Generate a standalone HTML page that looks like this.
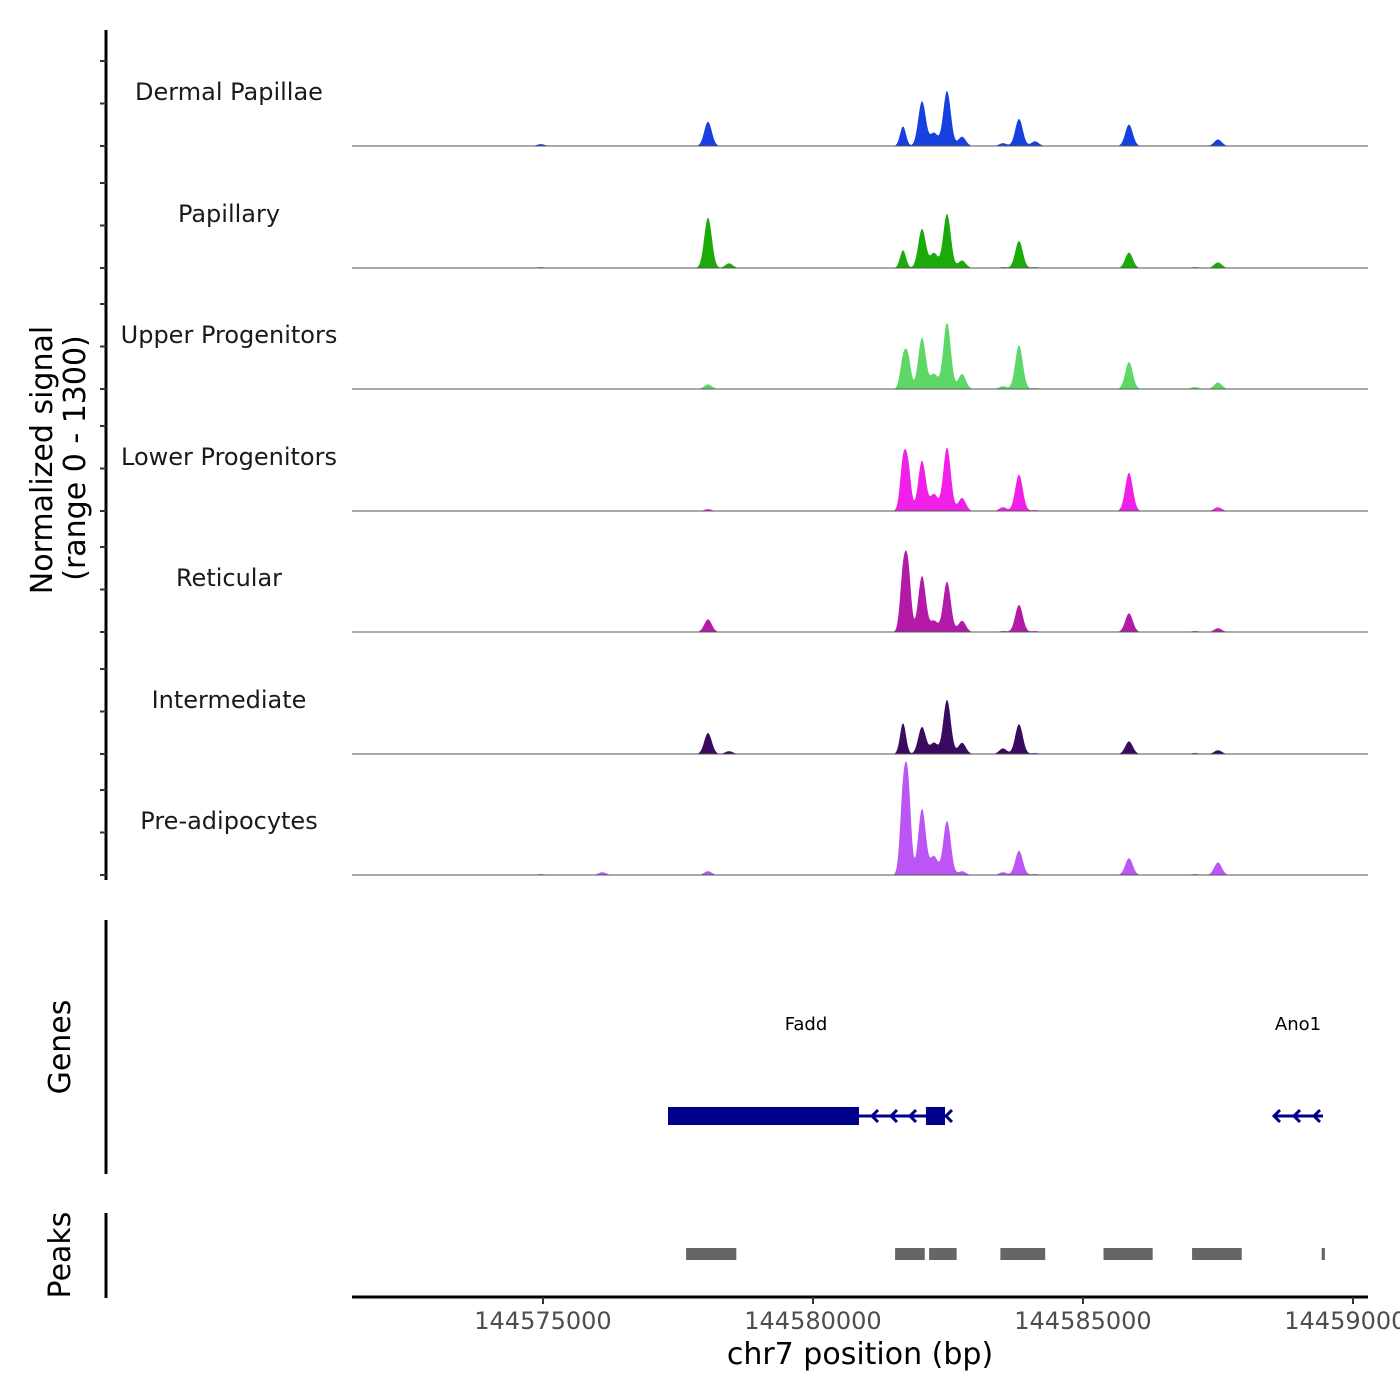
<!DOCTYPE html>
<html><head><meta charset="utf-8"><style>
html,body{margin:0;padding:0;background:#fff;}
svg{display:block;font-family:"DejaVu Sans","Liberation Sans",sans-serif;}
</style></head><body>
<svg id="chart" width="1400" height="1400" viewBox="0 0 1400 1400" xmlns="http://www.w3.org/2000/svg">
<g id="tracks"></g>
<g id="left-axis"></g>
<text transform="translate(52,460) rotate(-90)" text-anchor="middle" font-size="30" fill="#000">Normalized signal</text>
<text transform="translate(85,458) rotate(-90)" text-anchor="middle" font-size="30" fill="#000">(range 0 - 1300)</text>
<line x1="106" y1="920" x2="106" y2="1174" stroke="#000" stroke-width="3"/>
<text transform="translate(70,1047) rotate(-90)" text-anchor="middle" font-size="30" fill="#000">Genes</text>
<line x1="106" y1="1213" x2="106" y2="1298" stroke="#000" stroke-width="3"/>
<text transform="translate(70,1255) rotate(-90)" text-anchor="middle" font-size="30" fill="#000">Peaks</text>
<g id="genes"></g>
<g id="peaks"></g>
<g id="xaxis"></g>
<text x="860" y="1364" text-anchor="middle" font-size="30" fill="#000">chr7 position (bp)</text>
</svg>
<script>
// ---- data ----
const trackNames = ["Dermal Papillae","Papillary","Upper Progenitors","Lower Progenitors","Reticular","Intermediate","Pre-adipocytes"];
const trackColors = ["#1640e0","#1aaa0a","#5dd866","#f020e8","#b41aa8","#3a0a5e","#bb55f5"];
// peak centres (bp)
const peakCenters = [144574960,144578056,144578445,144581667,144581760,144582019,144582241,144582482,144582760,144583519,144583815,144584111,144585852,144587500,144576100,144587075];
// heights per track (signal units, 0-1300)
const sigDermal   = [20,260,0,210,0,480,140,590,100,30,290,50,230,70,0,0];
const sigPapillary= [10,540,50,190,0,420,160,580,80,10,290,10,165,60,0,10];
const sigUpper    = [0,50,0,300,320,550,160,710,160,30,470,10,290,70,0,20];
const sigLower    = [5,20,0,500,450,540,180,680,140,40,390,10,410,40,0,0];
const sigReticular= [0,135,0,600,650,600,120,540,120,10,290,10,200,40,0,10];
const sigInterm   = [0,225,30,330,0,290,120,580,120,60,320,10,135,40,0,10];
const sigPreadip  = [10,40,0,820,920,710,200,580,40,30,260,10,180,135,30,10];
const trackSignals = [sigDermal,sigPapillary,sigUpper,sigLower,sigReticular,sigInterm,sigPreadip];
const xTicks = [144575000,144580000,144585000,144590000];
const xTickLabels = ["144575000","144580000","144585000","144590000"];
const peakStarts = [144577650,144581520,144582150,144583470,144585380,144587020,144589420];
const peakEnds   = [144578580,144582070,144582660,144584300,144586290,144587940,144589480];
const geneNames = ["Fadd","Ano1"];

// ---- scales ----
const X0=352,X1=1368,BP0=144571463,PXPERBP=0.054;
const x = bp => X0+(bp-BP0)*PXPERBP;
const baselines=[146,268,389,511,632,754,875];
const YSCALE=121/1300;
const NS="http://www.w3.org/2000/svg";
function mk(tag,attrs,parent){const e=document.createElementNS(NS,tag);for(const k in attrs)e.setAttribute(k,attrs[k]);parent.appendChild(e);return e;}

const tracks=document.getElementById('tracks');
trackSignals.forEach((sig,t)=>{
  const g=mk('g',{},tracks);
  
  
  const base=baselines[t];
  let d='M'+X0+','+base;
  for(let px=X0;px<=X1;px+=0.5){
    const bp=BP0+(px-X0)/PXPERBP;
    let v=0;
    for(let i=0;i<peakCenters.length;i++){
      const s=(i===3||i===4)?55:70;
      const z=(bp-peakCenters[i])/s;v+=sig[i]*Math.exp(-0.5*z*z);
    }
    d+=' L'+px+','+(base-v*YSCALE).toFixed(2);
  }
  d+=' L'+X1+','+base+' Z';
  const p=mk('path',{d:d,fill:trackColors[t]},g);
  
  
  const bl=mk('line',{x1:X0,x2:X1,y1:base,y2:base,stroke:'#555','stroke-width':1},g);
  
  
  const lb=mk('text',{x:229,y:base-46,'text-anchor':'middle','font-size':24,fill:'#1a1a1a'},g);
  lb.textContent=trackNames[t];
  
  
});

const la=document.getElementById('left-axis');
mk('line',{x1:106,y1:30,x2:106,y2:880,stroke:'#000','stroke-width':3},la);
baselines.forEach(b=>{[0,42.5,85].forEach(o=>{
  const tk=mk('line',{x1:100,x2:106,y1:b-o,y2:b-o,stroke:'#333','stroke-width':2},la);
  
  
});});

// genes
const gg=document.getElementById('genes');
const c='#00008b';
mk('line',{x1:668,x2:948,y1:1116,y2:1116,stroke:c,'stroke-width':3},gg);
mk('rect',{x:668,y:1107,width:191,height:18,fill:c},gg);
mk('rect',{x:926,y:1107,width:19,height:18,fill:c},gg);
[872,891,910,946].forEach(a=>mk('path',{d:`M${a+6},${1110} L${a},${1116} L${a+6},${1122}`,stroke:c,'stroke-width':3,fill:'none'},gg));
mk('line',{x1:1273,x2:1323,y1:1116,y2:1116,stroke:c,'stroke-width':3},gg);
[1274,1294,1314].forEach(a=>mk('path',{d:`M${a+6},${1110} L${a},${1116} L${a+6},${1122}`,stroke:c,'stroke-width':3,fill:'none'},gg));
const g1=mk('text',{x:806,y:1030,'text-anchor':'middle','font-size':18,fill:'#000'},gg);g1.textContent=geneNames[0];


const g2=mk('text',{x:1298,y:1030,'text-anchor':'middle','font-size':18,fill:'#000'},gg);g2.textContent=geneNames[1];



// peaks
const pg=document.getElementById('peaks');
peakStarts.forEach((s,i)=>{
  const r=mk('rect',{x:x(s),y:1248,width:Math.max(3,x(peakEnds[i])-x(s)),height:12,fill:'#666'},pg);
  
  
});

// x axis
const xa=document.getElementById('xaxis');
mk('line',{x1:X0,x2:X1,y1:1297,y2:1297,stroke:'#000','stroke-width':3},xa);
xTicks.forEach((v,i)=>{
  const tk=mk('line',{x1:x(v),x2:x(v),y1:1297,y2:1304,stroke:'#333','stroke-width':2},xa);
  
  
  const tl=mk('text',{x:x(v),y:1329,'text-anchor':'middle','font-size':24,fill:'#4d4d4d'},xa);
  tl.textContent=xTickLabels[i];
  
  
});
</script>
</body></html>
